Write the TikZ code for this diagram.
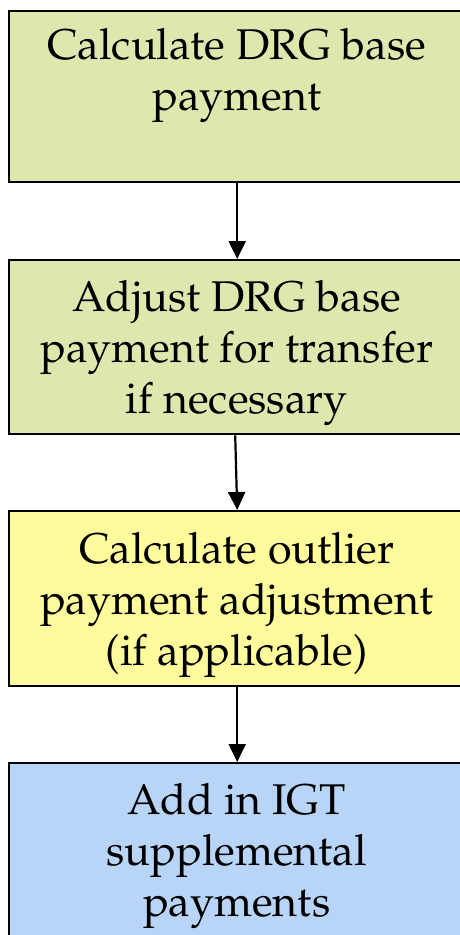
\documentclass[tikz,border=0pt]{standalone}
\usepackage[T1]{fontenc}
\usepackage{mathpazo}
\usetikzlibrary{arrows.meta}
\definecolor{boxgreen}{HTML}{DDE8AF}
\definecolor{boxyellow}{HTML}{FFFB9C}
\definecolor{boxblue}{HTML}{B8D4F7}
\newcommand{\boxtext}[3]{\parbox[t][#1][t]{455pt}{\centering\rule{0pt}{#2}#3}}
\tikzset{
  stepbox/.style={draw=black, line width=2.4pt, inner sep=0pt, anchor=north west,
    font=\fontsize{43}{51}\selectfont},
  flowarrow/.style={draw=black, line width=2.2pt, -{Triangle[width=17pt,length=18pt]}}
}
\begin{document}
\begin{tikzpicture}[x=1pt,y=-1pt]
\useasboundingbox (0,0) rectangle (460,935);
\clip (0,0) rectangle (460,935);
\node[stepbox, fill=boxgreen] (b1) at (8,10) {\boxtext{171pt}{48pt}{Calculate DRG base\\payment}};
\node[stepbox, fill=boxgreen] (b2) at (8,259) {\boxtext{174pt}{51pt}{Adjust DRG base\\payment for transfer\\if necessary}};
\node[stepbox, fill=boxyellow] (b3) at (8,510) {\boxtext{175pt}{52pt}{Calculate outlier\\payment adjustment\\(if applicable)}};
\node[stepbox, fill=boxblue] (b4) at (8,762) {\boxtext{180pt}{51pt}{Add in IGT\\supplemental\\payments}};
\draw[flowarrow] ([xshift=0.5pt]b1.south) -- ([xshift=0.5pt]b2.north);
\draw[flowarrow] ([xshift=-1.5pt]b2.south) -- ([xshift=0.5pt]b3.north);
\draw[flowarrow] ([xshift=0.5pt]b3.south) -- ([xshift=0.5pt]b4.north);
\end{tikzpicture}
\end{document}
